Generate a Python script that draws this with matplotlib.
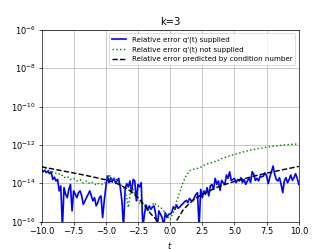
import numpy as np
import matplotlib
matplotlib.use("Agg")
import matplotlib.pyplot as plt
import matplotlib.ticker as mticker

# exponentes (log10) del error relativo
t_azul = np.linspace(-10, 10, 161)
exp_azul = [
    -13.27, -13.40, -13.33, -13.45, -13.36, -13.50, -13.40, -13.80, -13.68, -13.88,
    -13.80, -14.40, -14.14, -16.30, -14.23, -14.58, -14.75, -14.32, -14.06, -15.44,
    -14.40, -14.58, -14.75, -14.49, -14.40, -14.66, -15.10, -14.92, -14.75, -14.58,
    -14.40, -14.66, -14.92, -14.75, -15.18, -15.01, -14.75, -14.66, -15.79, -14.92,
    -14.20, -13.62, -13.97, -13.71, -13.88, -13.74, -13.97, -13.88, -13.74, -14.23,
    -14.92, -16.30, -14.32, -14.02, -14.19, -13.88, -14.49, -13.80, -13.88, -14.92,
    -14.06, -14.19, -13.97, -16.30, -15.62, -15.13, -15.41, -15.18, -15.36, -15.24,
    -15.18, -15.62, -16.30, -15.44, -15.62, -15.79, -16.20, -15.53, -15.79, -15.62,
    -15.60, -15.53, -15.22, -15.36, -15.13, -15.31, -15.24, -15.13, -15.06, -14.96,
    -14.89, -15.01, -14.79, -14.89, -14.92, -14.75, -14.58, -14.49, -16.30, -14.32,
    -14.75, -14.40, -14.58, -14.23, -14.66, -14.14, -14.06, -14.32, -13.74, -14.06,
    -13.88, -14.37, -13.85, -13.97, -14.06, -13.57, -13.74, -13.40, -13.85, -13.80,
    -13.75, -13.97, -13.80, -13.88, -13.71, -13.97, -13.80, -14.06, -13.88, -13.74,
    -13.97, -13.40, -13.53, -13.85, -13.74, -13.88, -13.62, -13.67, -13.62, -13.46,
    -13.62, -14.02, -13.67, -13.40, -13.10, -13.53, -13.80, -13.88, -13.71, -14.06,
    -14.49, -13.88, -13.71, -13.97, -13.80, -13.57, -13.85, -13.71, -13.50, -13.74,
    -14.06,
]

t_verde = np.linspace(-10, 10, 81)
exp_verde = [
    -13.14, -13.22, -13.29, -13.40, -13.43, -13.53, -13.50, -13.71, -13.64, -13.81,
    -13.74, -13.88, -13.81, -13.99, -13.88, -14.02, -13.95, -14.09, -13.99, -14.06,
    -13.95, -13.53, -13.88, -13.74, -13.97, -14.14, -14.32, -15.27, -14.06, -14.58,
    -14.92, -15.13, -15.06, -15.44, -15.27, -15.01, -15.18, -15.24, -15.44, -15.71,
    -15.90, -15.50, -14.95, -14.45, -13.97, -13.60, -13.35, -13.28, -13.25, -13.20,
    -13.12, -13.02, -12.97, -12.92, -12.86, -12.80, -12.72, -12.66, -12.60, -12.54,
    -12.50, -12.45, -12.40, -12.35, -12.31, -12.27, -12.24, -12.20, -12.17, -12.15,
    -12.12, -12.09, -12.07, -12.05, -12.03, -12.01, -11.99, -11.98, -11.97, -11.96,
    -11.95,
]

t_cond = [-10, -9, -8, -7, -6, -5, -4, -3.5, -3, -2.5, -2, -1.5, -1, -0.5, 0,
          0.5, 1, 1.5, 2, 2.5, 3, 3.5, 4, 5, 6, 7, 8, 9, 10]
exp_cond = [-13.14, -13.27, -13.40, -13.53, -13.67, -13.82, -14.05, -14.23, -14.45,
            -14.75, -15.15, -15.60, -15.95, -16.60, -17.50,
            -15.95, -15.40, -15.05, -14.77, -14.58, -14.42, -14.25, -14.12, -13.90,
            -13.72, -13.55, -13.40, -13.26, -13.12]

fig, ax = plt.subplots(figsize=(5.5, 4.125), dpi=100)

ax.semilogy(t_azul, 10.0 ** np.array(exp_azul), 'b-', linewidth=2.0,
            label="Relative error q'(t) supplied")
ax.semilogy(t_verde, 10.0 ** np.array(exp_verde), 'g:', linewidth=1.7,
            label="Relative error q'(t) not supplied")
ax.semilogy(t_cond, 10.0 ** np.array(exp_cond), 'k--', linewidth=1.7,
            label='Relative error predicted by condition number')

ax.set_xlim(-10, 10)
ax.set_ylim(1e-16, 1e-6)
ax.yaxis.set_major_locator(mticker.FixedLocator([1e-16, 1e-14, 1e-12, 1e-10, 1e-8, 1e-6]))
ax.yaxis.set_minor_locator(mticker.NullLocator())
ax.set_title('k=3')
ax.set_xlabel('$t$')
ax.grid(True)
ax.legend(loc='upper right', fontsize=8.5)

plt.savefig('out.png', dpi=332 / 5.5)
plt.close()
